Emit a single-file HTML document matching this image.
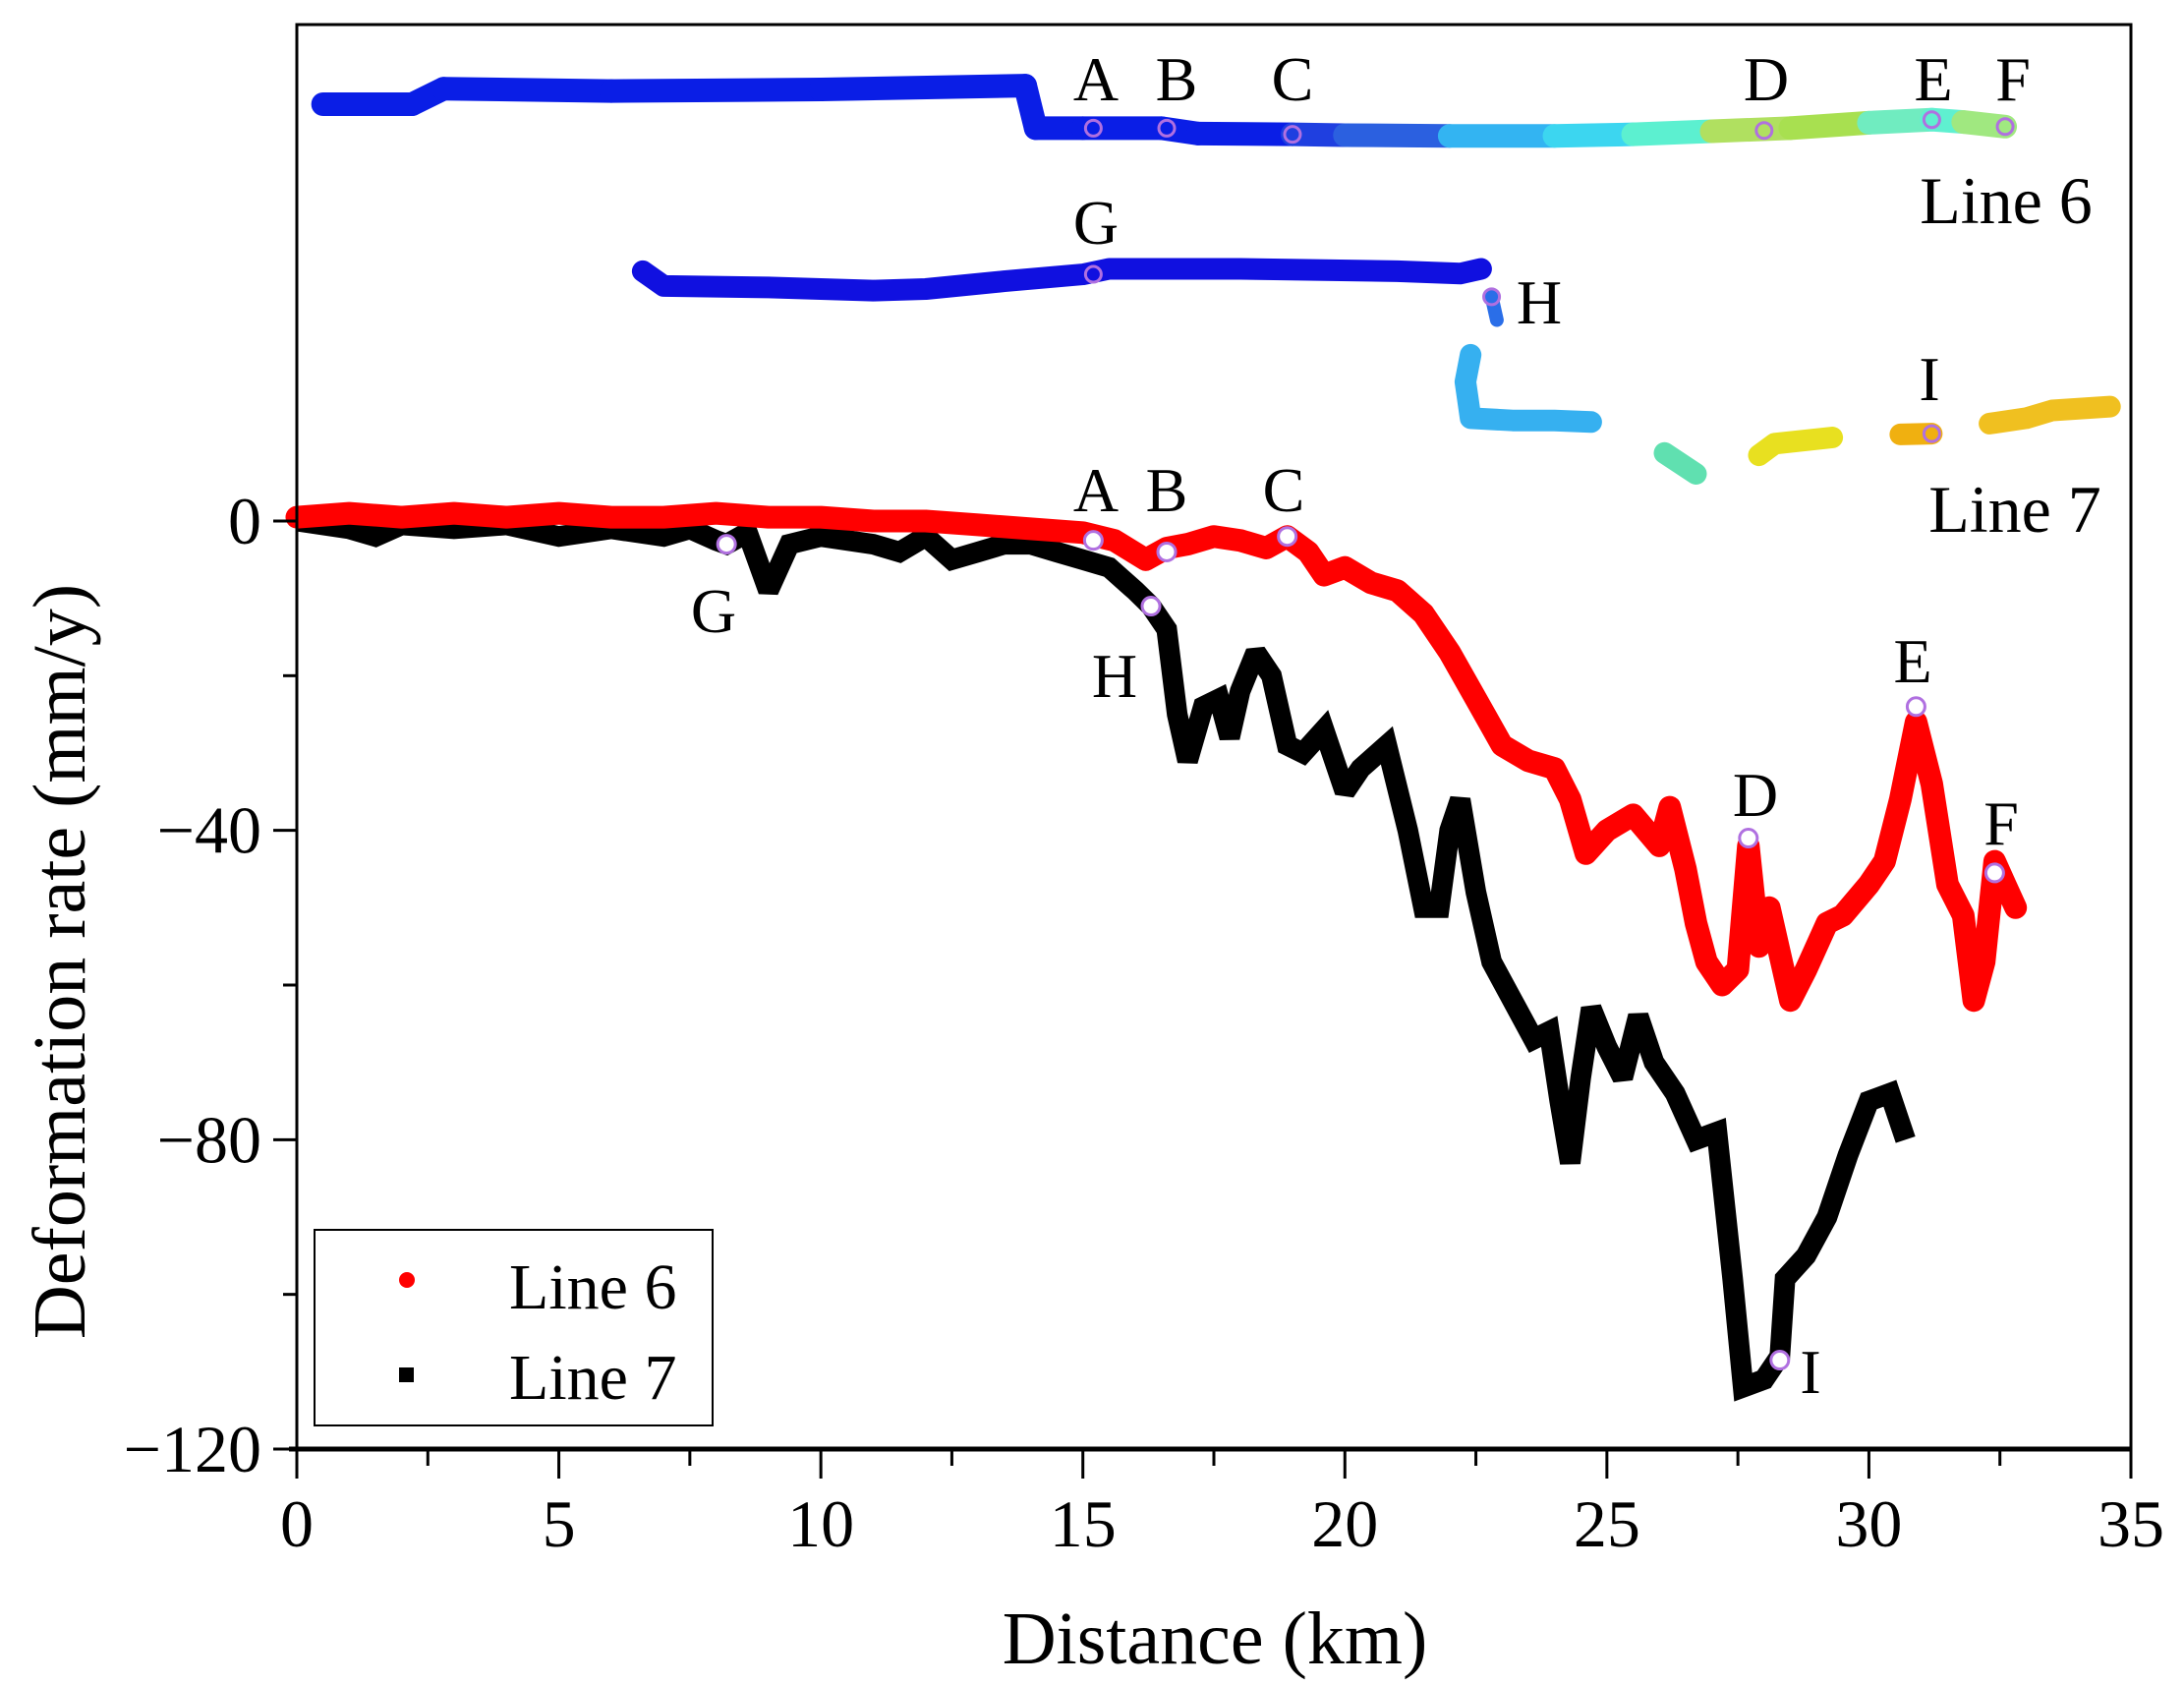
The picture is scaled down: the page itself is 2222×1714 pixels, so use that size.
<!DOCTYPE html>
<html><head><meta charset="utf-8"><style>
html,body{margin:0;padding:0;background:#fff;}
svg{display:block;}
text{font-family:"Liberation Serif",serif;fill:#000;}
</style></head><body>
<svg id="chart" width="2222" height="1714" viewBox="0 0 2222 1714" xmlns="http://www.w3.org/2000/svg">
<g id="marks"></g>
<g id="axes"></g>
<g id="labels"></g>
<g>
  <rect x="320" y="1251" width="405" height="199" fill="#fff" stroke="#000" stroke-width="2"/>
  <circle cx="414" cy="1302" r="8" fill="#ff0000"/>
  <text x="518" y="1331" font-size="66">Line 6</text>
  <rect x="406" y="1391" width="15" height="15" fill="#000"/>
  <text x="518" y="1423" font-size="66">Line 7</text>
</g>
<text x="1236" y="1692" font-size="76" text-anchor="middle">Distance (km)</text>
<text x="0" y="0" font-size="76" text-anchor="middle" transform="translate(86,978) rotate(-90)">Deformation rate (mm/y)</text>
</svg>
<script>
const xTicks=[0,5,10,15,20,25,30,35];
const yTicks=[0,-40,-80,-120];
const line6X=[0,1,2,3,4,5,6,7,8,9,10,11,12,13,14,15,15.6,16.2,16.6,17,17.5,18,18.5,18.9,19.3,19.6,20,20.5,21,21.5,22,22.5,23,23.5,24,24.3,24.6,25,25.5,26,26.2,26.5,26.7,26.9,27.2,27.5,27.7,27.9,28.1,28.5,28.8,29.2,29.5,30,30.3,30.6,30.9,31.2,31.5,31.8,32,32.2,32.4,32.6,32.8];
const line6Y=[0.5,1,0.5,1,0.5,1,0.5,0.5,1,0.5,0.5,0,0,-0.5,-1,-1.5,-2.5,-5,-3.5,-3,-2,-2.5,-3.5,-2,-4,-7,-6,-8,-9,-12,-17,-23,-29,-31,-32,-36,-43,-40,-38,-42,-37,-45,-52,-57,-60,-58,-42,-55,-50,-62,-58,-52,-51,-47,-44,-36,-26,-34,-47,-51,-62,-57,-44,-47,-50];
const line7X=[0,1,1.5,2,3,4,5,6,7,7.5,8,8.2,8.6,9,9.4,10,11,11.5,12,12.5,13,13.5,14,14.5,15,15.5,16,16.3,16.6,16.8,17,17.3,17.6,17.8,18,18.3,18.6,18.9,19.2,19.6,20,20.3,20.8,21.2,21.5,21.8,22,22.2,22.5,22.8,23.2,23.6,23.9,24.1,24.3,24.5,24.7,25,25.3,25.6,25.9,26.3,26.7,27.1,27.4,27.6,28,28.3,28.4,28.8,29.2,29.6,30,30.4,30.7];
const line7Y=[0,-1,-2,-0.5,-1,-0.5,-2,-1,-2,-1,-2.5,-3,-1.5,-9,-3,-2,-3,-4,-2,-5,-4,-3,-3,-4,-5,-6,-9,-11,-14,-25,-31,-24,-23,-28,-22,-17,-20,-29,-30,-27,-35,-32,-29,-40,-50,-50,-40,-36,-48,-57,-62,-67,-66,-75,-83,-72,-63,-68,-72,-64,-70,-74,-80,-79,-98,-112,-111,-108,-98,-95,-90,-82,-75,-74,-80];
const prof6X=[0.5,2.2,2.8,6,10,13.9,14.1,15,16.5,17.2,19,20,22,24,25.5,27,28.5,30,31.2,31.8,32.6];
const prof6Y=[53.9,53.9,55.9,55.6,55.8,56.3,50.8,50.8,50.8,50.1,50,49.9,49.8,49.8,50,50.4,50.8,51.5,51.9,51.6,51.0];
const prof6C=["#0a1ee6","#0a1ee6","#0a1ee6","#0a1ee6","#0a1ee6","#0a1ee6","#0a1ee6","#0a1ee6","#0a1ee6","#0a1ee6","#1f3fe0","#2b60e0","#33b4f2","#3cd6f0","#5cf0d0","#b0e060","#a8e050","#70ecc0","#5ff0d0","#a0e880","#a0e880"];
const prof7aX=[6.6,7,9,11,12,13.5,15,15.5,18,21,22.2,22.6];
const prof7aY=[32.3,30.4,30.2,29.8,30,31,31.9,32.6,32.6,32.3,32,32.6];
const prof7bX=[22.8,22.9];
const prof7bY=[29,26];
const prof7cX=[22.4,22.3,22.4,23.2,24.0,24.7];
const prof7cY=[21.5,18,13.3,13,13,12.8];
const prof7dX=[26.1,26.7];
const prof7dY=[8.8,6.1];
const prof7eX=[27.9,28.2,29.3];
const prof7eY=[8.5,10,10.8];
const prof7fX=[30.6,31.2];
const prof7fY=[11.2,11.3];
const prof7gX=[32.3,33,33.5,34.6];
const prof7gY=[12.6,13.3,14.3,14.8];
const prof7Colors=["#1010e0","#2a6ee8","#36b0f0","#60e0b0","#e8e020","#f0b010","#f0c020"];
const labelsText=["A","B","C","D","E","F","G","H","I"];
const line6MarkX=[15.2,16.6,18.9,27.7,30.9,32.4];
const line6MarkY=[-2.5,-4,-2,-41,-24,-45.5];
const line7MarkX=[8.2,16.3,28.3];
const line7MarkY=[-3,-11,-108.5];

const NS="http://www.w3.org/2000/svg";
const L=302,R=2168,T=25,B=1474;
const sx=v=>L+(v-0)/(35-0)*(R-L);
const sy=v=>530-v*((1474-530)/120);
function mk(tag,attrs,parent){const e=document.createElementNS(NS,tag);for(const k in attrs)e.setAttribute(k,attrs[k]);parent.appendChild(e);return e;}
const marks=document.getElementById('marks'),axes=document.getElementById('axes'),labels=document.getElementById('labels');
function pts(xs,ys){return xs.map((x,i)=>sx(x).toFixed(1)+','+sy(ys[i]).toFixed(1)).join(' ');}

for(let i=0;i<prof6X.length-1;i++){
  const s=mk('line',{x1:sx(prof6X[i]),y1:sy(prof6Y[i]),x2:sx(prof6X[i+1]),y2:sy(prof6Y[i+1]),stroke:prof6C[i],'stroke-width':24,'stroke-linecap':'round'},marks);
  
  
}
const segs7=[[prof7aX,prof7aY],[prof7bX,prof7bY],[prof7cX,prof7cY],[prof7dX,prof7dY],[prof7eX,prof7eY],[prof7fX,prof7fY],[prof7gX,prof7gY]];
segs7.forEach((sg,i)=>{
  const p=mk('polyline',{points:pts(sg[0],sg[1]),fill:'none',stroke:prof7Colors[i],'stroke-width':i==1?14:22,'stroke-linecap':'round','stroke-linejoin':'round'},marks);
  
  
});

const p7=mk('polyline',{points:pts(line7X,line7Y),fill:'none',stroke:'#000','stroke-width':21,'stroke-linejoin':'miter','stroke-miterlimit':2},marks);


const p6=mk('polyline',{points:pts(line6X,line6Y),fill:'none',stroke:'#ff0000','stroke-width':23,'stroke-linejoin':'round','stroke-linecap':'round'},marks);



line6MarkX.forEach((x,i)=>{
  const c=mk('circle',{cx:sx(x),cy:sy(line6MarkY[i]),r:9,fill:'#fff',stroke:'#b070e0','stroke-width':3},marks);
  
  
});
line7MarkX.forEach((x,i)=>{
  const c=mk('circle',{cx:sx(x),cy:sy(line7MarkY[i]),r:9,fill:'#fff',stroke:'#b070e0','stroke-width':3},marks);
  
  
});
const pm=[[15.2,50.8],[16.6,50.8],[19,50],[28,50.5],[31.2,51.9],[32.6,51],[15.2,31.9],[22.8,29],[31.2,11.3]];
pm.forEach((p,i)=>{
  const c=mk('circle',{cx:sx(p[0]),cy:sy(p[1]),r:8,fill:'none',stroke:'#b070e0','stroke-width':3},marks);
  
  
});

const fr=mk('rect',{x:L,y:T,width:R-L,height:B-T,fill:'none',stroke:'#000','stroke-width':3},axes);


const xb=mk('line',{x1:L-8,y1:B,x2:R,y2:B,stroke:'#000','stroke-width':5},axes);


xTicks.forEach(v=>{
  const t=mk('line',{x1:sx(v),y1:B,x2:sx(v),y2:B+30,stroke:'#000','stroke-width':3},axes);
  
  
  const tx=mk('text',{x:sx(v),y:1573,'font-size':68,'text-anchor':'middle'},axes);
  tx.textContent=v;
  
  
  if(v<35){
    const m=mk('line',{x1:sx(v+2.5),y1:B,x2:sx(v+2.5),y2:B+17,stroke:'#000','stroke-width':3},axes);
    
    
  }
});
yTicks.forEach(v=>{
  const t=mk('line',{x1:L-24,y1:sy(v),x2:L,y2:sy(v),stroke:'#000','stroke-width':3},axes);
  
  
  const tx=mk('text',{x:266,y:sy(v)+23,'font-size':68,'text-anchor':'end'},axes);
  tx.textContent=v===0?'0':'\u2212'+Math.abs(v);
  
  
  if(v>-120){
    const m=mk('line',{x1:L-14,y1:sy(v-20),x2:L,y2:sy(v-20),stroke:'#000','stroke-width':3},axes);
    
    
  }
});

const lbl=[["A",1115,102],["B",1197,102],["C",1315,102],["D",1797,102],["E",1967,102],["F",2048,102],["Line 6",2041,227],["G",1115,248],["H",1566,329],["I",1963,407],["Line 7",2050,541],
["A",1115,520],["B",1187,520],["C",1306,520],["G",726,643],["H",1134,709],["D",1786,830],["E",1946,694],["F",2036,859],["I",1842,1417]];
lbl.forEach(l=>{
  const t=mk('text',{x:l[1],y:l[2],'font-size':l[0].length>1?68:64,'text-anchor':'middle'},labels);
  t.textContent=l[0];
  
  
});
</script>
</body></html>
